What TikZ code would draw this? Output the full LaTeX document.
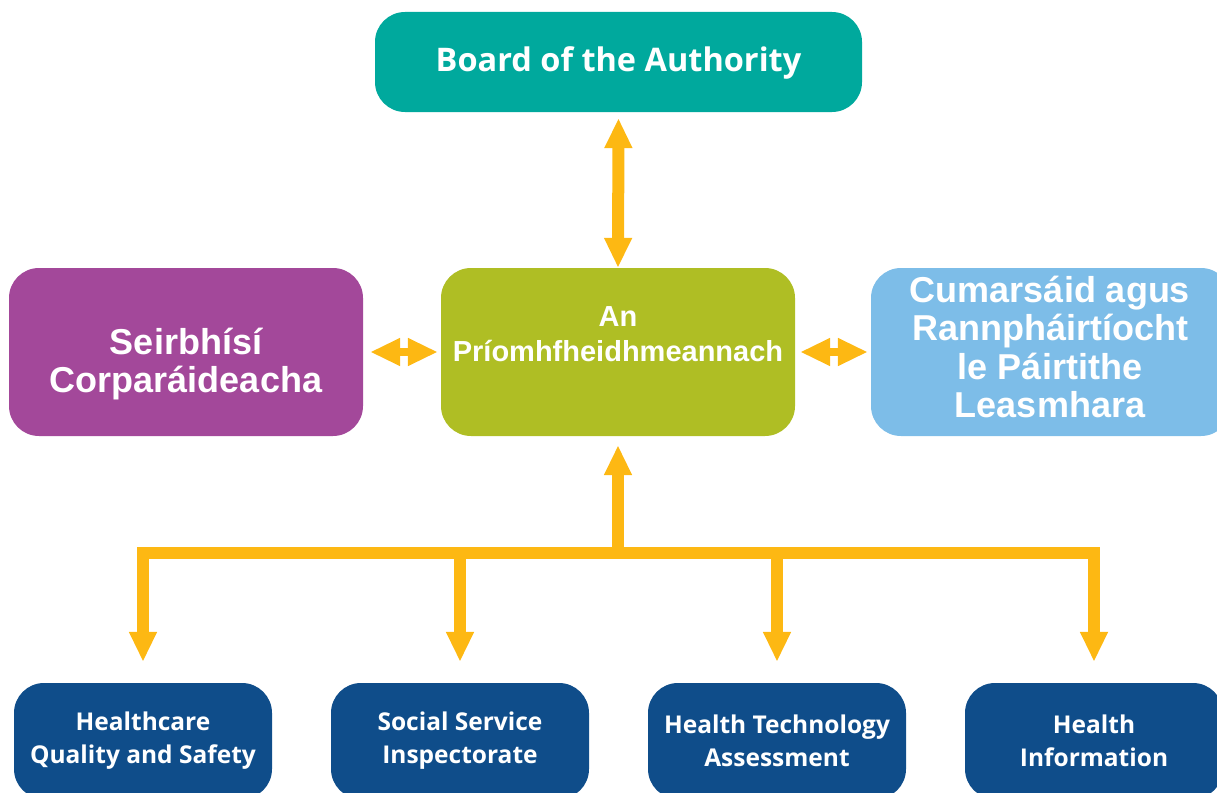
\documentclass[tikz,border=0pt]{standalone}
\usepackage{fontspec}
\setmainfont{Open Sans}
\newfontfamily\irishfont{Liberation Sans}
\usetikzlibrary{arrows.meta}

\definecolor{boardteal}{HTML}{00A99D}
\definecolor{chiefolive}{HTML}{AFBE24}
\definecolor{corppurple}{HTML}{A3489A}
\definecolor{commsblue}{HTML}{7DBDE8}
\definecolor{unitblue}{HTML}{0F4D8A}
\definecolor{linkyellow}{HTML}{FDB813}

\begin{document}
\begin{tikzpicture}[x=1pt, y=-1pt,
  box/.style={rounded corners=30pt, text=white, align=center, inner sep=0pt},
  label/.style={text=white, align=center, inner sep=0pt},
  irishtext/.style={font=\irishfont\bfseries\fontsize{36}{38.5}\selectfont},
  unittext/.style={font=\bfseries\fontsize{24.5}{33}\selectfont},
  link/.style={draw=linkyellow, line width=12pt, line join=miter},
  tip/.style={-{Triangle[width=26pt,length=30pt]}},
  twotip/.style={{Triangle[width=26pt,length=30pt]}-{Triangle[width=26pt,length=30pt]}}]

\useasboundingbox (0,0) rectangle (1217,792);
\clip (0,0) rectangle (1217,792);

% top row
\node (board) [box, fill=boardteal, minimum width=487pt, minimum height=100pt] at (618.5, 62) {};
\node (boardtext) [label, font=\bfseries\fontsize{32.5}{36}\selectfont] at (618.5, 63) {Board of the Authority};

% middle row
\node (chief) [box, fill=chiefolive, minimum width=354pt, minimum height=168pt] at (618, 352) {};
\node (chieftext) [label, font=\irishfont\bfseries\fontsize{29}{35}\selectfont] at (618, 334) {An\\Príomhfheidhmeannach};
\node (corp) [box, fill=corppurple, minimum width=354pt, minimum height=168pt] at (186, 352) {};
\node (corptext) [label, irishtext] at (186, 364) {Seirbhísí\\Corparáideacha};
\node (comms) [box, fill=commsblue, minimum width=360pt, minimum height=168pt] at (1051, 352) {};
\node (commstext) [label, irishtext] at (1050, 347) {Cumarsáid agus\\Rannpháirtíocht\\le Páirtithe\\Leasmhara};

% bottom row
\node (hqs) [box, unittext, fill=unitblue, minimum width=258pt, minimum height=116pt] at (143, 741) {Healthcare\\Quality and Safety};
\node (ssi) [box, unittext, fill=unitblue, minimum width=258pt, minimum height=116pt] at (460, 741) {Social Service\\Inspectorate};
\node (hta) [box, unittext, fill=unitblue, minimum width=258pt, minimum height=116pt] at (777, 741) {Health Technology\\Assessment};
\node (hinfo) [box, unittext, fill=unitblue, minimum width=258pt, minimum height=116pt] at (1094, 741) {Health\\Information};

% links
\draw [link, twotip, shorten <=6pt] (board.south) -- (chief.north);
\draw [link, line width=8pt, twotip, shorten <=7pt, shorten >=3pt] (corp.east) -- (chief.west);
\draw [link, line width=8pt, twotip, shorten <=5pt, shorten >=3pt] (chief.east) -- (comms.west);

\coordinate (bar) at (618, 553);
\draw [link, tip, shorten >=9pt] (bar) -- (chief.south);
\draw [link, tip, shorten >=21pt] (bar) -| (hqs.north);
\draw [link, tip, shorten >=21pt] (bar) -| (ssi.north);
\draw [link, tip, shorten >=21pt] (bar) -| (hta.north);
\draw [link, tip, shorten >=21pt] (bar) -| (hinfo.north);

\end{tikzpicture}
\end{document}
